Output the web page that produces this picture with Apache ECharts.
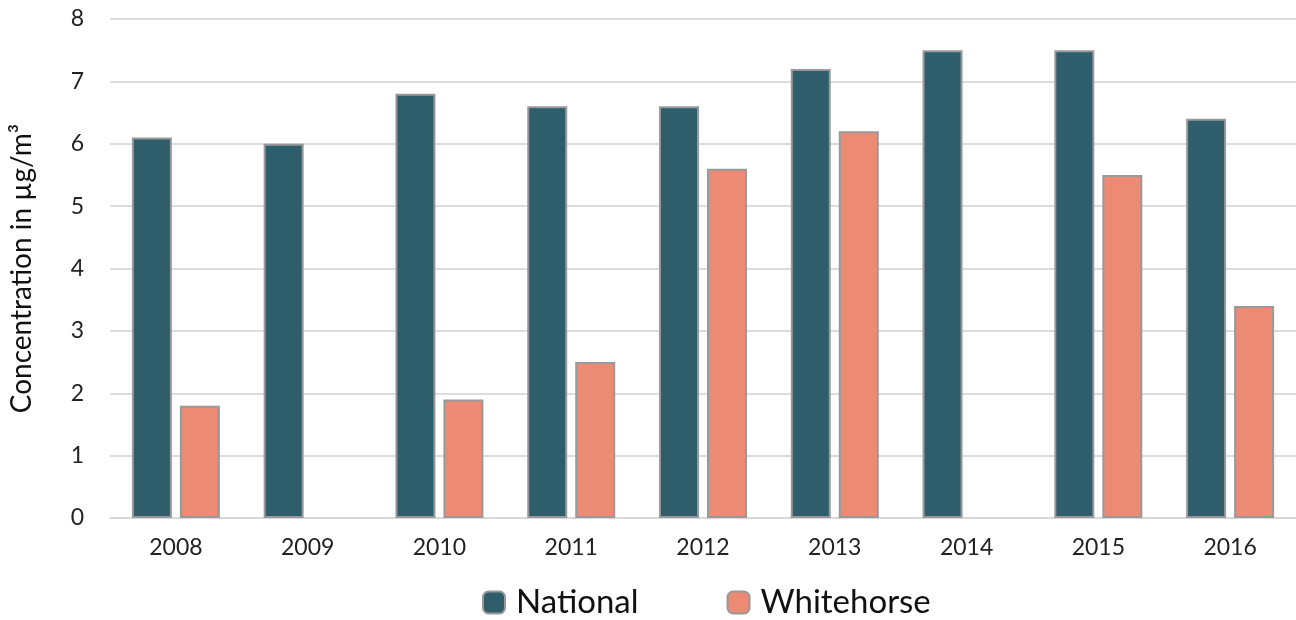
<!DOCTYPE html>
<html>
<head>
<meta charset="utf-8">
<script src="https://cdn.jsdelivr.net/npm/echarts@6/dist/echarts.min.js"></script>
<style>
  html, body { margin: 0; padding: 0; background: #fff; }
  #chart { width: 1296px; height: 620px; }
</style>
</head>
<body>
<div id="chart"></div>
<script>
// years on the x axis
var years = ["2008", "2009", "2010", "2011", "2012", "2013", "2014", "2015", "2016"];
// concentration in µg/m3, null = no data
var national = [6.1, 6.0, 6.8, 6.6, 6.6, 7.2, 7.5, 7.5, 6.4];
var whitehorse = [1.8, null, 1.9, 2.5, 5.6, 6.2, null, 5.5, 3.4];

var chart = echarts.init(document.getElementById("chart"));
var font = "Lato";

var option = {
  animation: false,
  textStyle: { fontFamily: font },
  grid: { left: 110, top: 19, width: 1188, bottom: 102 },
  legend: {
    bottom: -4,
    left: 477,
    itemWidth: 22,
    itemHeight: 22,
    itemGap: 88,
    textStyle: { fontSize: 33, color: "#111", fontFamily: font, padding: [0, 0, 0, 6] },
    data: ["National", "Whitehorse"]
  },
  xAxis: {
    type: "category",
    data: years,
    axisTick: { show: false },
    axisLine: { lineStyle: { color: "#d9d9d9", width: 2 } },
    axisLabel: { color: "#222", fontSize: 23, margin: 18 }
  },
  yAxis: {
    type: "value",
    min: 0,
    max: 8,
    interval: 1,
    name: "Concentration in µg/m³",
    nameLocation: "middle",
    nameGap: 74,
    nameTextStyle: { fontSize: 28, color: "#111" },
    axisLabel: { color: "#222", fontSize: 23, margin: 26 },
    splitLine: { lineStyle: { color: "#dcdcdc", width: 2 } }
  },
  series: [
    {
      name: "National",
      type: "bar",
      data: national,
      barWidth: 40,
      barGap: "20%",
      itemStyle: { color: "#2e5d6c", borderColor: "#999", borderWidth: 2 }
    },
    {
      name: "Whitehorse",
      type: "bar",
      data: whitehorse,
      barWidth: 40,
      itemStyle: { color: "#ec8a74", borderColor: "#999", borderWidth: 2 }
    }
  ]
};
chart.setOption(option);
</script>
</body>
</html>
